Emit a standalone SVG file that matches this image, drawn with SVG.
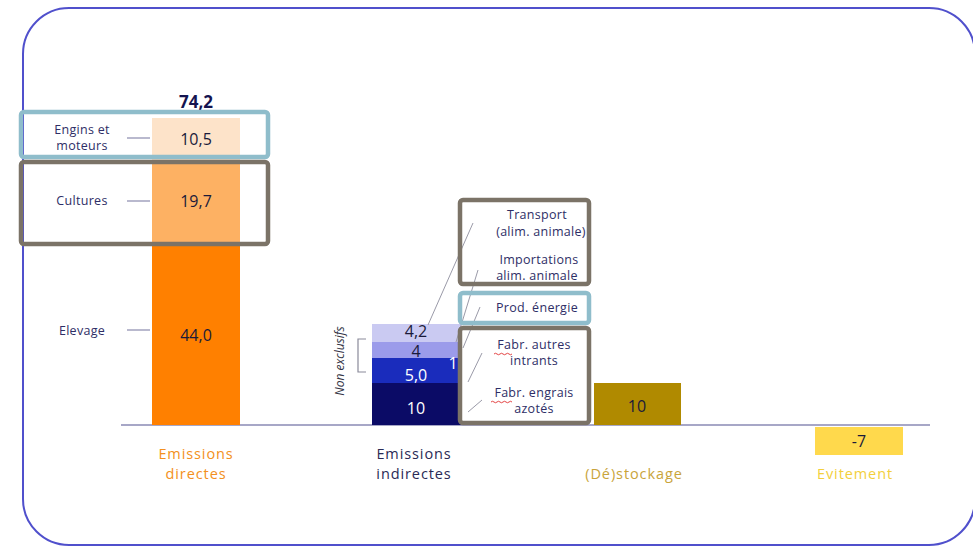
<svg xmlns="http://www.w3.org/2000/svg" width="973" height="549" viewBox="0 0 973 549">
<style>
  text { font-family: "Open Sans", "Noto Sans", "Liberation Sans", sans-serif; }
  .lbl { font-size: 12.5px; fill: #2e2e66; text-anchor: middle; font-weight: 500; letter-spacing: 0.3px; }
  .val { font-size: 16px; fill: #1a1a3a; text-anchor: middle; font-weight: 500; }
  .valw { font-size: 16px; fill: #ffffff; text-anchor: middle; font-weight: 500; }
  .tick { stroke: #8a8aae; stroke-width: 1.2; }
  .lead { stroke: #9a9aa8; stroke-width: 1; fill: none; }
  .hlb { fill: none; stroke: #8fbdcb; stroke-width: 4.5; }
  .hlg { fill: none; stroke: #7b7367; stroke-width: 4.5; }
  .cat { font-size: 14.5px; text-anchor: middle; font-weight: 500; letter-spacing: 0.9px; }
</style>
<rect x="0" y="0" width="973" height="549" fill="#ffffff"/>
<rect id="frame" x="23" y="8" width="952" height="537" rx="46" ry="46" fill="none" stroke="#5050cc" stroke-width="2"/>

<g id="baseline"><line x1="121" y1="425" x2="930" y2="425" stroke="#8a8ab4" stroke-width="1.5"/></g>

<g id="directes">
  <rect x="152" y="118" width="88" height="42" fill="#fde3c9"/>
  <rect x="152" y="160" width="88" height="84" fill="#fdb163"/>
  <rect x="152" y="244" width="88" height="181" fill="#ff8000"/>
  <text x="196" y="108" font-size="17" font-weight="bold" fill="#141450" text-anchor="middle">74,2</text>
  <text class="val" x="196" y="145">10,5</text>
  <text class="val" x="196" y="207">19,7</text>
  <text class="val" x="196" y="341">44,0</text>
  <text class="lbl" x="82" y="134">Engins et</text>
  <text class="lbl" x="82" y="150">moteurs</text>
  <text class="lbl" x="82" y="205">Cultures</text>
  <text class="lbl" x="82" y="335">Elevage</text>
  <line class="tick" x1="127" y1="138" x2="150" y2="138"/>
  <line class="tick" x1="127" y1="201" x2="150" y2="201"/>
  <line class="tick" x1="127" y1="330" x2="150" y2="330"/>
  <text class="cat" x="196" y="459" fill="#f39020">Emissions</text>
  <text class="cat" x="196" y="479" fill="#f39020">directes</text>
</g>

<g id="hl-engins"><rect class="hlb" x="21" y="112" width="247" height="45" rx="3"/></g>
<g id="hl-cultures"><rect class="hlg" x="21" y="162" width="247" height="82" rx="3"/></g>

<g id="indirectes">
  <rect x="372" y="324" width="89" height="18" fill="#cacaf2"/>
  <rect x="372" y="342" width="89" height="16" fill="#9b9bea"/>
  <rect x="372" y="358" width="89" height="25" fill="#1a2cbc"/>
  <rect x="372" y="383" width="89" height="42" fill="#0b0b66"/>
  <text class="val" x="416" y="337" font-size="13.5" fill="#1e1e6a">4,2</text>
  <text class="val" x="416" y="357" font-size="12.5" fill="#1e1e6a">4</text>
  <text class="valw" x="416" y="381">5,0</text>
  <text class="valw" x="416" y="414">10</text>
  <text class="valw" x="453" y="369">1</text>
  <path d="M366,339 H358 V372 H366" fill="none" stroke="#8a8a9a" stroke-width="1.2"/>
  <text transform="translate(344,361) rotate(-90)" font-size="12" font-style="italic" fill="#333344" text-anchor="middle">Non exclusifs</text>
  <text class="cat" x="414" y="459" fill="#2a2a55">Emissions</text>
  <text class="cat" x="414" y="479" fill="#2a2a55">indirectes</text>
</g>

<g id="connectors">
  <line class="lead" x1="428" y1="325" x2="473" y2="223"/>
  <line class="lead" x1="456" y1="342" x2="478" y2="270"/>
  <line class="lead" x1="463" y1="348" x2="480" y2="307"/>
  <line class="lead" x1="468" y1="382" x2="482" y2="353"/>
  <line class="lead" x1="468" y1="412" x2="482" y2="400"/>
</g>

<g id="labels-indirect">
  <clipPath id="c1"><rect x="462" y="201" width="126" height="81"/></clipPath>
  <g clip-path="url(#c1)">
    <text class="lbl" x="537" y="219">Transport</text>
    <text class="lbl" x="541" y="236">(alim. animale)</text>
    <text class="lbl" x="539" y="264">Importations</text>
    <text class="lbl" x="537" y="280">alim. animale</text>
  </g>
  <text class="lbl" x="537" y="312">Prod. énergie</text>
  <text class="lbl" x="534" y="349">Fabr. autres</text>
  <text class="lbl" x="534" y="365">intrants</text>
  <text class="lbl" x="534" y="397">Fabr. engrais</text>
  <text class="lbl" x="534" y="413">azotés</text>
  <path d="M494,354 q1.5,-1.5 3,0 t3,0 t3,0 t3,0 t3,0 t3,0" fill="none" stroke="#e03030" stroke-width="0.9"/>
  <path d="M491,402 q1.5,-1.5 3,0 t3,0 t3,0 t3,0 t3,0 t3,0 t3,0" fill="none" stroke="#e03030" stroke-width="0.9"/>
</g>

<g id="hl-transport"><rect class="hlg" x="460" y="200" width="129" height="84" rx="3"/></g>
<g id="hl-energie"><rect class="hlb" x="460" y="293" width="129" height="30" rx="3"/></g>
<g id="hl-fabr"><rect class="hlg" x="460" y="328" width="129" height="95" rx="3"/></g>

<g id="destockage">
  <rect x="594" y="383" width="87" height="42" fill="#b08a00"/>
  <text class="val" x="637" y="412">10</text>
  <text class="cat" x="634" y="479" fill="#c9a43a">(Dé)stockage</text>
</g>

<g id="evitement">
  <rect x="815" y="427" width="88" height="28" fill="#ffd94c"/>
  <text class="val" x="859" y="447">-7</text>
  <text class="cat" x="855" y="479" fill="#f3cf3c">Evitement</text>
</g>
</svg>
